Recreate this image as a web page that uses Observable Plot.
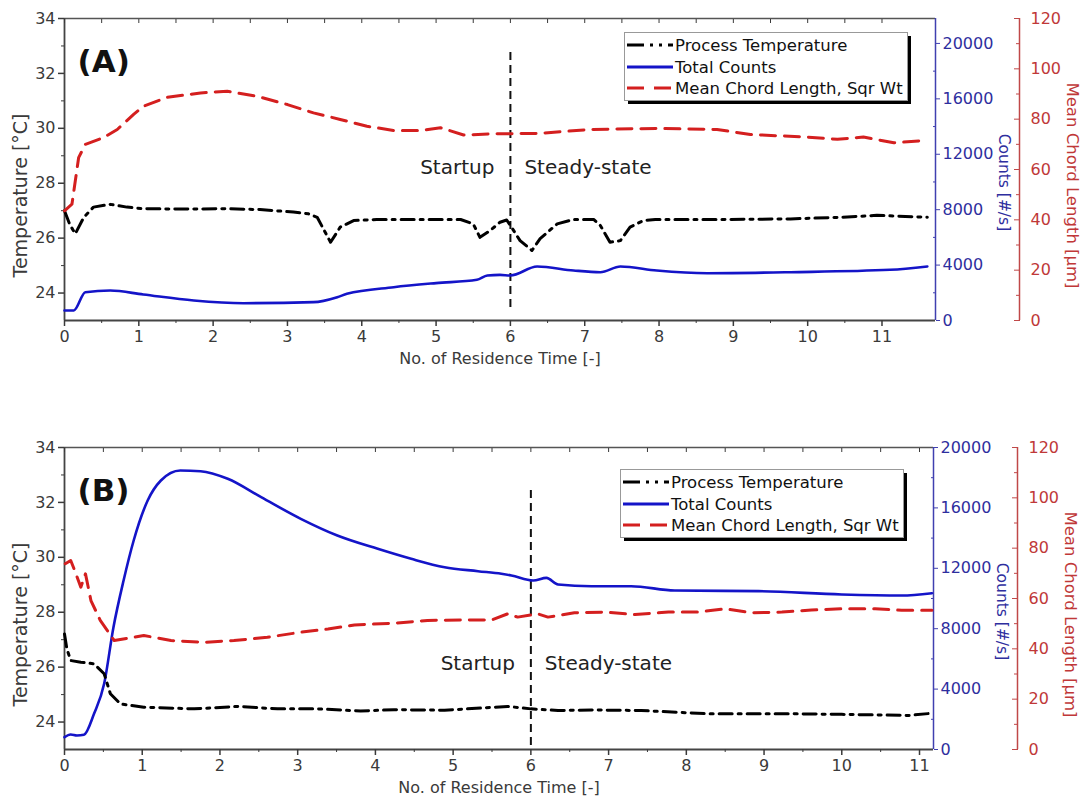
<!DOCTYPE html>
<html><head><meta charset="utf-8">
<script src="https://cdn.jsdelivr.net/npm/d3@7"></script>
<script src="https://cdn.jsdelivr.net/npm/@observablehq/plot@0.6"></script>
<style>
body{margin:0;background:#fff;}
#chart{width:1087px;}
.panel{position:relative;width:1087px;}
</style></head>
<body><div id="chart"></div>
<script>
// ---------- shared ticks / labels ----------
const residenceTicks = [0,1,2,3,4,5,6,7,8,9,10,11];
const residenceMinor = [0.5,1.5,2.5,3.5,4.5,5.5,6.5,7.5,8.5,9.5,10.5];
const tempTicks = [24,26,28,30,32,34];
const tempMinor = [25,27,29,31,33];
const countTicks = [0,4000,8000,12000,16000,20000];
const countMinor = [2000,6000,10000,14000,18000];
const chordTicks = [0,20,40,60,80,100,120];
const chordMinor = [10,30,50,70,90,110];
const seriesNames = ["Process Temperature","Total Counts","Mean Chord Length, Sqr Wt"];
const panelLabels = ["(A)","(B)"];
const phaseLabels = ["Startup","Steady-state"];
const axisTitles = ["Temperature [°C]","Counts [#/s]","Mean Chord Length [µm]","No. of Residence Time [-]"];
const steadyStart = 6;
const tempDomain = [23,34];
const chordMax = 120;

// ---------- Panel A data ----------
const tempA_t = [0,0.07,0.145,0.26,0.39,0.615,0.84,1.06,1.6,2.18,2.63,3.08,3.28,3.40,3.58,3.71,3.89,4.2,4.8,5.33,5.50,5.59,5.73,5.86,5.95,6.0,6.13,6.29,6.40,6.63,6.85,7.12,7.21,7.34,7.48,7.61,7.79,7.95,8.85,9.77,10.44,10.93,11.61];
const tempA_v = [27.0,26.5,26.16,26.76,27.13,27.23,27.13,27.07,27.06,27.07,27.04,26.95,26.89,26.76,25.85,26.40,26.64,26.68,26.68,26.68,26.52,26.03,26.28,26.58,26.66,26.46,25.91,25.55,25.98,26.52,26.68,26.68,26.46,25.85,25.91,26.40,26.64,26.68,26.68,26.70,26.76,26.83,26.76];
const countsA_t = [0,0.125,0.28,0.615,1.06,1.74,2.41,3.35,3.67,3.80,4.43,5.0,5.55,5.69,5.86,6.0,6.36,6.85,7.21,7.48,7.97,8.65,9.77,11.11,11.61];
const countsA_v = [720,720,2043,2166,1877,1444,1250,1324,1684,1925,2406,2700,2935,3248,3296,3248,3897,3609,3488,3897,3609,3416,3488,3658,3897];
const chordA_t = [0,0.1,0.145,0.19,0.28,0.52,0.71,0.93,1.06,1.38,1.83,2.19,2.59,3.0,3.35,3.71,4.07,4.43,4.79,5.06,5.37,5.78,6.36,7.07,7.97,8.78,9.23,9.99,10.40,10.75,11.16,11.61];
const chordA_v = [43.6,46.2,55.4,64.7,70.0,72.6,75.9,81.9,85.1,88.7,90.4,91.1,89.1,85.8,82.5,79.9,77.2,75.5,75.5,76.6,73.7,74.2,74.3,75.9,76.3,75.9,73.9,72.9,72.0,72.9,70.6,71.6];

// ---------- Panel B data ----------
const tempB_t = [0,0.03,0.08,0.21,0.38,0.51,0.59,0.72,1.02,1.67,2.23,2.74,3.26,3.81,4.24,4.89,5.53,5.70,6.0,6.35,6.78,7.42,8.28,9.36,10.0,10.86,11.16];
const tempB_v = [27.21,26.67,26.24,26.18,26.12,25.76,25.03,24.66,24.54,24.48,24.57,24.48,24.48,24.40,24.45,24.43,24.54,24.57,24.48,24.42,24.44,24.42,24.30,24.30,24.28,24.24,24.32];
const countsB_t = [0,0.08,0.16,0.25,0.38,0.51,0.63,0.76,0.89,1.07,1.24,1.49,1.75,2.10,2.53,3.04,3.51,4.03,4.46,4.89,5.32,5.62,5.75,6.03,6.20,6.35,6.78,7.29,7.85,8.93,10.0,10.77,11.16];
const countsB_v = [815,993,927,973,2364,4351,8100,11192,13841,16490,17815,18477,18430,17927,16710,15278,14172,13290,12629,12073,11808,11634,11523,11192,11369,10927,10815,10815,10530,10486,10265,10199,10351];
const chordB_t = [0.01,0.08,0.14,0.21,0.27,0.34,0.46,0.64,1.02,1.37,1.80,2.18,2.61,3.04,3.39,3.73,4.24,4.67,5.10,5.49,5.70,5.83,6.09,6.22,6.56,6.95,7.34,7.77,8.15,8.50,8.84,9.23,9.61,10.0,10.43,10.77,11.16];
const chordB_v = [73.8,75.1,70.4,64.5,69.8,59.2,51.3,43.3,45.3,43.3,42.6,43.3,44.6,46.6,47.9,49.5,50.2,51.3,51.5,51.4,53.9,52.6,53.9,52.6,54.3,54.6,53.6,54.6,54.6,55.9,54.3,54.6,55.4,55.9,55.9,55.3,55.3];

// ---------- styles ----------
const FONT = "DejaVu Sans";
const axisGray = "#3a3a3a";
const blueLine = "#1414c8", blueText = "#2e2e9e", blueAxis = "#4040b0";
const redLine = "#d41f1f", redText = "#c03838", redAxis = "#c04848";

function buildPanel(p) {
  const [T0, T1] = tempDomain;
  const span = T1 - T0;
  const cToT = c => T0 + c / p.countsMax * span;
  const lToT = l => T0 + l / chordMax * span;
  const tToC = d => String(Math.round((d - T0) / span * p.countsMax));
  const tToL = d => String(Math.round((d - T0) / span * chordMax));
  const temp = p.tempT.map((t, i) => ({t, v: p.tempV[i]}));
  const counts = p.countsT.map((t, i) => ({t, v: cToT(p.countsV[i])}));
  const chord = p.chordT.map((t, i) => ({t, v: lToT(p.chordV[i])}));
  const W = 1087;
  const plot = Plot.plot({
    width: W, height: p.height,
    marginLeft: 64, marginRight: W - p.frameRight, marginTop: 18, marginBottom: p.height - 18 - 302,
    x: {domain: [0, p.xMax]},
    y: {domain: tempDomain},
    style: {fontFamily: FONT, fontSize: "16px", background: "white", overflow: "visible", color: axisGray},
    marks: [
      // frame
      Plot.ruleY([T1], {stroke: "#555", strokeWidth: 1.5}),
      Plot.ruleY([T0], {stroke: "#444", strokeWidth: 1.8}),
      Plot.ruleX([0], {stroke: "#444", strokeWidth: 1.8}),
      Plot.ruleX([p.xMax], {stroke: blueAxis, strokeWidth: 1.5}),
      Plot.ruleX([p.xMax], {stroke: redAxis, strokeWidth: 1.5, dx: 84}),
      // x axes
      Plot.axisX(residenceTicks, {anchor: "bottom", tickSize: 6, tickPadding: 4, label: null, fontSize: 16, color: axisGray, strokeWidth: 1.5}),
      Plot.axisX(residenceMinor, {anchor: "bottom", tickSize: 3, tickFormat: () => "", label: null, color: axisGray}),
      Plot.axisX(residenceTicks.concat(residenceMinor), {anchor: "top", tickSize: -4, tickFormat: () => "", label: null, color: axisGray}),
      // temperature axis
      Plot.axisY(tempTicks, {anchor: "left", tickSize: 6, tickPadding: 3, label: null, fontSize: 16, color: axisGray, strokeWidth: 1.5}),
      Plot.axisY(tempMinor, {anchor: "left", tickSize: 3, tickFormat: () => "", label: null, color: axisGray}),
      // counts axis
      Plot.axisY(countTicks.map(cToT), {anchor: "right", tickSize: 4, tickPadding: 3, tickFormat: tToC, label: null, fontSize: 16, color: blueText, stroke: blueAxis}),
      Plot.axisY(countMinor.map(cToT), {anchor: "right", tickSize: -3, tickFormat: () => "", label: null, stroke: blueAxis}),
      // chord axis (offset)
      Plot.axisY(chordTicks.map(lToT), {anchor: "right", dx: 84, tickSize: -6, tickPadding: 17, tickFormat: tToL, label: null, fontSize: 16, color: redText, stroke: redAxis}),
      Plot.axisY(chordMinor.map(lToT), {anchor: "right", dx: 84, tickSize: -4, tickFormat: () => "", label: null, stroke: redAxis}),
      // axis titles
      Plot.text([axisTitles[0]], {text: d => d, frameAnchor: "left", textAnchor: "middle", dx: -44, dy: 26, rotate: -90, fontSize: 19, fill: axisGray}),
      Plot.text([axisTitles[1]], {text: d => d, frameAnchor: "right", textAnchor: "middle", dx: 68, dy: 13, rotate: 90, fontSize: 15.5, fill: blueText}),
      Plot.text([axisTitles[2]], {text: d => d, frameAnchor: "right", textAnchor: "middle", dx: 137, dy: 16, rotate: 90, fontSize: 16.5, fill: redText}),
      Plot.text([axisTitles[3]], {text: d => d, frameAnchor: "bottom", textAnchor: "middle", dy: 43, fontSize: 16, fill: axisGray}),
      // panel label
      Plot.text([p.label], {text: d => d, frameAnchor: "top-left", dx: 13, dy: 31, textAnchor: "start", fontSize: 31, fontWeight: "bold", fill: "#111"}),
      // divider + phases
      Plot.ruleX([steadyStart], {y1: p.dividerY[0], y2: p.dividerY[1], stroke: "#111", strokeWidth: 2, strokeDasharray: "8,5"}),
      Plot.text([phaseLabels[0]], {text: d => d, x: () => steadyStart, y: () => p.phaseY, dx: -16, textAnchor: "end", fontSize: 20, fill: "#222"}),
      Plot.text([phaseLabels[1]], {text: d => d, x: () => steadyStart, y: () => p.phaseY, dx: 14, textAnchor: "start", fontSize: 20, fill: "#222"}),
      // series
      Plot.line(counts, {x: "t", y: "v", stroke: blueLine, strokeWidth: 2.6, curve: "monotone-x"}),
      Plot.line(temp, {x: "t", y: "v", stroke: "#000", strokeWidth: 3, strokeDasharray: "13,6,3,6"}),
      Plot.line(chord, {x: "t", y: "v", stroke: redLine, strokeWidth: 3, strokeDasharray: "15,9"})
    ]
  });
  const div = document.createElement("div");
  div.className = "panel";
  div.appendChild(plot);
  div.appendChild(buildLegend(p.legendLeft, p.legendTop));
  return div;
}

function buildLegend(left, top) {
  const w = 283, h = 68;
  const svg = d3.create("svg").attr("width", w + 6).attr("height", h + 6)
    .style("position", "absolute").style("left", left + "px").style("top", top + "px")
    .style("font-family", FONT);
  svg.append("rect").attr("x", 4).attr("y", 4).attr("width", w).attr("height", h).attr("fill", "#000");
  svg.append("rect").attr("x", 0.5).attr("y", 0.5).attr("width", w).attr("height", h).attr("fill", "#fff").attr("stroke", "#999");
  const styles = [
    {stroke: "#000", dash: "17,6,3,6,3,6", width: 3},
    {stroke: blueLine, dash: null, width: 3},
    {stroke: redLine, dash: "17,10", width: 3}
  ];
  const rowY = [13, 35, 56];
  seriesNames.forEach((name, i) => {
    const ln = svg.append("line").attr("x1", 3).attr("x2", 49).attr("y1", rowY[i]).attr("y2", rowY[i])
      .attr("stroke", styles[i].stroke).attr("stroke-width", styles[i].width);
    if (styles[i].dash) ln.attr("stroke-dasharray", styles[i].dash);
    svg.append("text").attr("x", 51).attr("y", rowY[i]).attr("dy", "0.36em")
      .attr("font-size", 16.5).attr("fill", "#111").text(name);
  });
  return svg.node();
}

const chart = document.getElementById("chart");
chart.appendChild(buildPanel({
  label: panelLabels[0], height: 429, xMax: 11.72, frameRight: 935, countsMax: 21800,
  tempT: tempA_t, tempV: tempA_v, countsT: countsA_t, countsV: countsA_v, chordT: chordA_t, chordV: chordA_v,
  dividerY: [23.47, 32.84], phaseY: 28.57, legendLeft: 624, legendTop: 32
}));
chart.appendChild(buildPanel({
  label: panelLabels[1], height: 378, xMax: 11.18, frameRight: 933, countsMax: 20000,
  tempT: tempB_t, tempV: tempB_v, countsT: countsB_t, countsV: countsB_v, chordT: chordB_t, chordV: chordB_v,
  dividerY: [23.15, 32.44], phaseY: 26.13, legendLeft: 620, legendTop: 40
}));
</script>
</body></html>
